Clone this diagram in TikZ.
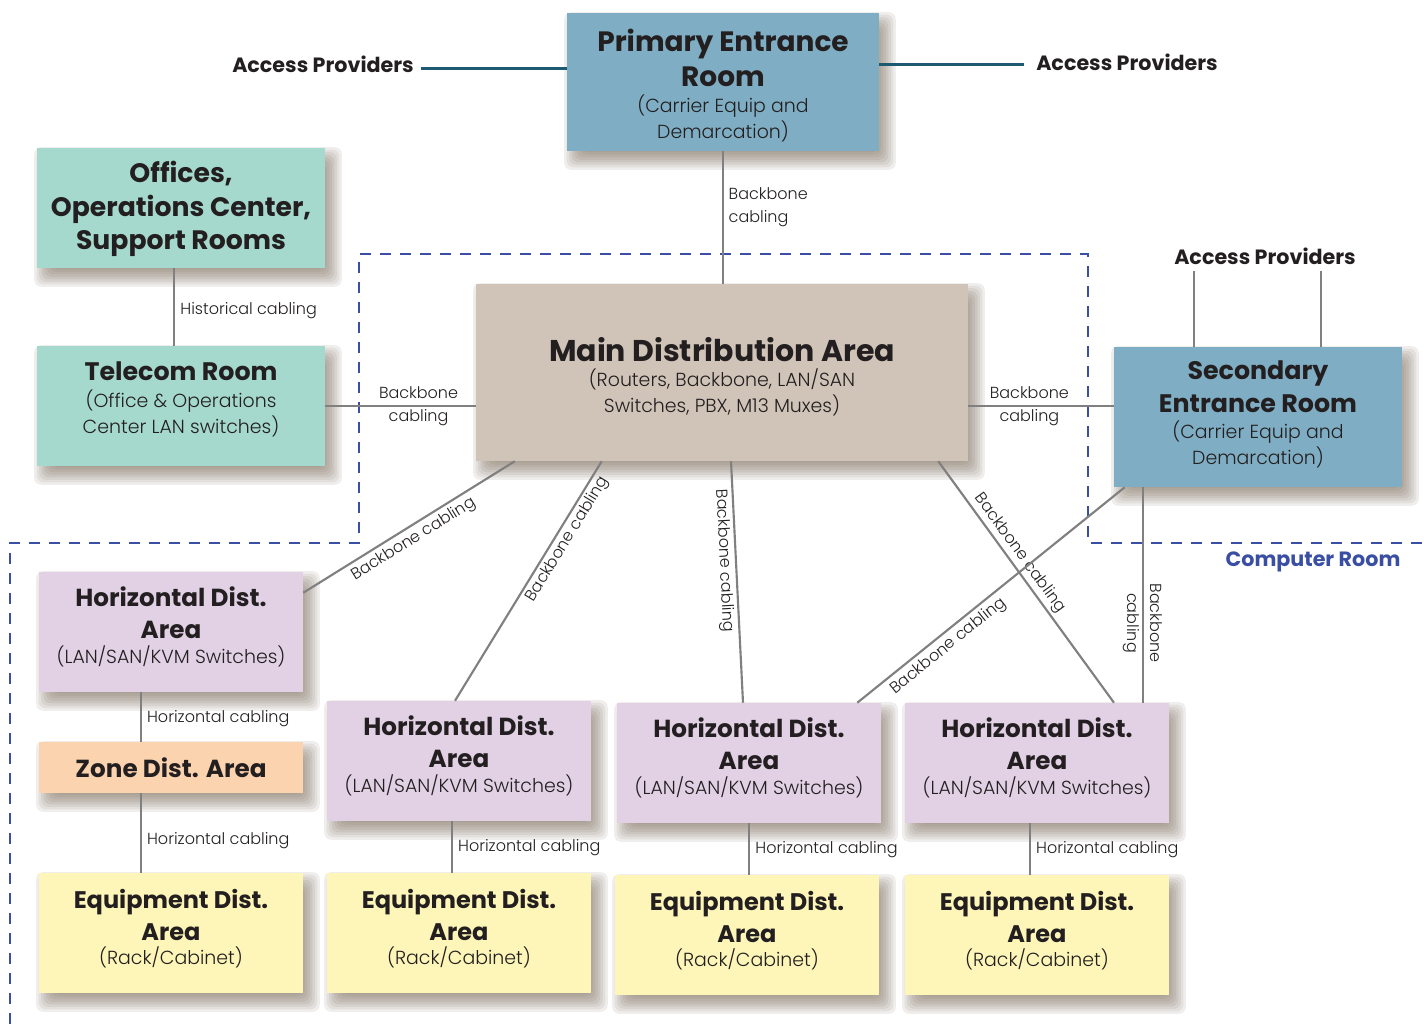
\documentclass[tikz,border=0pt]{standalone}
\usepackage{fontspec}
\setmainfont{Poppins}
\newfontfamily\lightf{Poppins Light}
\usetikzlibrary{calc}
\pgfdeclarelayer{bg}
\pgfsetlayers{bg,main}
\definecolor{cblue}{HTML}{7FAEC4}
\definecolor{cmint}{HTML}{A5D9CD}
\definecolor{cbeige}{HTML}{D0C4B8}
\definecolor{clav}{HTML}{E2D1E5}
\definecolor{cpeach}{HTML}{FCD3AF}
\definecolor{cyel}{HTML}{FDF6B8}
\definecolor{cshadow}{HTML}{6B5A48}
\definecolor{cline}{HTML}{808080}
\definecolor{cdash}{HTML}{3A4FA3}
\definecolor{cteal}{HTML}{1D5970}
\definecolor{ctext}{HTML}{231F20}
\tikzset{
  box/.style={rectangle, inner sep=0pt, draw=none},
  bigbox/.style={box, minimum width=216pt, minimum height=90pt},
  smallbox/.style={box, minimum width=198pt, minimum height=90pt},
  ttl/.style={align=center, inner sep=0pt, text=ctext, font=\bfseries\fontsize{19}{25}\selectfont},
  ttlbig/.style={ttl, font=\bfseries\fontsize{21}{26.25}\selectfont},
  ttloff/.style={ttl, font=\bfseries\fontsize{20}{25}\selectfont},
  ttlmda/.style={ttl, font=\bfseries\fontsize{22.5}{27}\selectfont},
  ttlsm/.style={ttl, font=\bfseries\fontsize{18.5}{24}\selectfont},
  ttleda/.style={ttl, font=\bfseries\fontsize{18}{24}\selectfont},
  sub/.style={align=center, inner sep=0pt, text=ctext, font=\lightf\fontsize{14.2}{19.5}\selectfont},
  lbl/.style={inner sep=0pt, text=ctext, font=\lightf\fontsize{12}{17}\selectfont},
  conn/.style={draw=cline, line width=1.6pt},
  prov/.style={inner sep=0pt, text=ctext, font=\bfseries\fontsize{15.5}{19}\selectfont},
  tealline/.style={draw=cteal, line width=2.2pt},
  zone/.style={draw=cdash, line width=2.2pt, dash pattern=on 8pt off 7pt},
  shadowlayer/.style={fill=cshadow, opacity=0.1, rounded corners=5pt},
}
\begin{document}
\begin{tikzpicture}[x=0.75pt,y=-0.75pt]
\useasboundingbox (0,0) rectangle (1424,1024);
% computer room boundary
\draw[zone] (10,1024) -- (10,543) -- (359,543) -- (359,254) -- (1088,254) -- (1088,543) -- (1424,543);
\node[text=cdash, inner sep=0pt, font=\bfseries\fontsize{15.5}{19}\selectfont] (croom) at (1313,562) {Computer Room};

% boxes
\node[box, fill=cblue, minimum width=234pt, minimum height=103.5pt] (per) at (723,82) {};
\node[bigbox, fill=cmint] (off) at (181,208) {};
\node[bigbox, fill=cmint] (tel) at (181,406) {};
\node[box, fill=cbeige, minimum width=369pt, minimum height=132.75pt] (mda) at (722,372.5) {};
\node[box, fill=cblue, minimum width=216pt, minimum height=105pt] (ser) at (1258,417) {};
\node[smallbox, fill=clav] (hda1) at (171,632) {};
\node[box, fill=cpeach, minimum width=198pt, minimum height=38.25pt] (zda) at (171,767.5) {};
\node[smallbox, fill=cyel] (eda1) at (171,933) {};
\node[smallbox, fill=clav] (hda2) at (459,761) {};
\node[smallbox, fill=cyel] (eda2) at (459,933) {};
\node[smallbox, fill=clav] (hda3) at (749,763) {};
\node[smallbox, fill=cyel] (eda3) at (747,935) {};
\node[smallbox, fill=clav] (hda4) at (1037,763) {};
\node[smallbox, fill=cyel] (eda4) at (1037,935) {};

% soft shadows behind the boxes
\begin{pgfonlayer}{bg}
\foreach \b in {per,off,tel,mda,ser,hda1,zda,eda1,hda2,eda2,hda3,eda3,hda4,eda4}{
  \foreach \r in {-8,-5.5,-3,-0.5,2,4.5,7,9.5}{
    \fill[shadowlayer] ($(\b.north west)+(7-\r,9-\r)$) rectangle ($(\b.south east)+(7+\r,9+\r)$);
  }
}
\end{pgfonlayer}

% box texts
\node[ttlbig] (per-t) at (723,58) {Primary Entrance\\Room};
\node[sub] (per-s) at (723,118) {(Carrier Equip and\\Demarcation)};
\node[ttloff] (off-t) at (181,209) {Offices,\\Operations Center,\\Support Rooms};
\node[ttl] (tel-t) at (181,371) {Telecom Room};
\node[sub] (tel-s) at (181,413) {(Office \& Operations\\Center LAN switches)};
\node[ttlmda] (mda-t) at (722,350) {Main Distribution Area};
\node[sub] (mda-s) at (722,392) {(Routers, Backbone, LAN/SAN\\Switches, PBX, M13 Muxes)};
\node[ttl] (ser-t) at (1258,386.5) {Secondary\\Entrance Room};
\node[sub] (ser-s) at (1258,444.5) {(Carrier Equip and\\Demarcation)};
\foreach \n in {hda1,hda2,hda3,hda4}{
  \node[ttlsm] (\n-t) at ($(\n.north)+(0,41)$) {Horizontal Dist.\\Area};
  \node[sub] (\n-s) at ($(\n.north)+(0,85)$) {(LAN/SAN/KVM Switches)};
}
\node[ttlsm] (zda-t) at (zda.center) {Zone Dist. Area};
\foreach \n in {eda1,eda2,eda3,eda4}{
  \node[ttleda] (\n-t) at ($(\n.north)+(0,42)$) {Equipment Dist.\\Area};
  \node[sub] (\n-s) at ($(\n.north)+(0,85)$) {(Rack/Cabinet)};
}

% access providers
\node[prov] (apl) at (323,64) {Access Providers};
\node[prov] (apr1) at (1127,62) {Access Providers};
\node[prov] (apr2) at (1265,256) {Access Providers};
\coordinate (a1) at ($(apl.east)!0.5!(apl.base east)$);
\coordinate (a2) at ($(apr1.west)!0.3!(apr1.base west)$);
\draw[tealline, shorten <=5pt] (a1) -- (a1 -| per.west);
\draw[tealline, shorten >=9pt] (per.east |- a2) -- (a2);
\coordinate (s1) at ($(ser.north west)+(80,0)$);
\coordinate (s2) at ($(ser.north west)+(207,0)$);
\draw[conn, shorten >=4.5pt] (s1) -- (s1 |- apr2.south);
\draw[conn, shorten >=4.5pt] (s2) -- (s2 |- apr2.south);

% backbone connectors
\draw[conn] (per.south) -- node[lbl, align=left, right=3.5pt, pos=.42] (l-pm) {Backbone\\cabling} (per.south |- mda.north);
\draw[conn] ($(off.south)+(-7,0)$) -- node[lbl, right=4pt, pos=.55] (l-hist) {Historical cabling} ($(tel.north)+(-7,0)$);
\draw[conn] (tel.east) -- node[lbl, align=center, pos=.62] (l-tm) {Backbone\\cabling} (tel.east -| mda.west);
\draw[conn] (tel.east -| mda.east) -- node[lbl, align=center, pos=.42] (l-ms) {Backbone\\cabling} (tel.east -| ser.west);
\draw[conn] ($(hda1.north east)+(0,21)$) -- node[lbl, sloped, below=3pt, pos=.49] (l-m1) {Backbone cabling} ($(mda.south west)+(39,0)$);
\draw[conn] ($(hda2.north)+(-4,0)$) -- node[lbl, sloped, below=2pt, pos=.7] (l-m2) {Backbone cabling} ($(mda.south west)+(126,0)$);
\draw[conn] ($(mda.south)+(9,0)$) -- node[lbl, sloped, below=2pt, pos=.41] (l-m3) {Backbone cabling} ($(hda3.north)+(-6,0)$);
\draw[conn] ($(mda.south east)+(-30,0)$) -- node[lbl, sloped, above=2pt, pos=.41] (l-m4) {Backbone cabling} ($(hda4.north)+(77,0)$);
\draw[conn] ($(hda3.north east)+(-24,0)$) -- node[lbl, sloped, below=3pt, pos=.31] (l-s3) {Backbone cabling} ($(ser.south west)+(11,0)$);
\coordinate (s3) at ($(ser.south west)+(29,0)$);
\draw[conn] (s3) -- node[lbl, align=center, rotate=-90, pos=.63] (l-s4) {Backbone\\cabling} (s3 |- hda4.north);

% horizontal cabling
\coordinate (h1) at ($(hda1.south west)+(102,0)$);
\coordinate (h1b) at ($(zda.south west)+(102,0)$);
\coordinate (h2) at ($(hda2.south west)+(125,0)$);
\coordinate (h3) at (hda3.south);
\coordinate (h4) at ($(hda4.south west)+(125,0)$);
\draw[conn] (h1) -- node[lbl, right=4pt, pos=.54] (l-h1) {Horizontal cabling} (h1 |- zda.north);
\draw[conn] (h1b) -- node[lbl, right=4pt, pos=.59] (l-h1b) {Horizontal cabling} (h1b |- eda1.north);
\draw[conn] (h2) -- node[lbl, right=4pt, pos=.52] (l-h2) {Horizontal cabling} (h2 |- eda2.north);
\draw[conn] (h3) -- node[lbl, right=4pt, pos=.52] (l-h3) {Horizontal cabling} (h3 |- eda3.north);
\draw[conn] (h4) -- node[lbl, right=4pt, pos=.52] (l-h4) {Horizontal cabling} (h4 |- eda4.north);
\end{tikzpicture}
\end{document}
